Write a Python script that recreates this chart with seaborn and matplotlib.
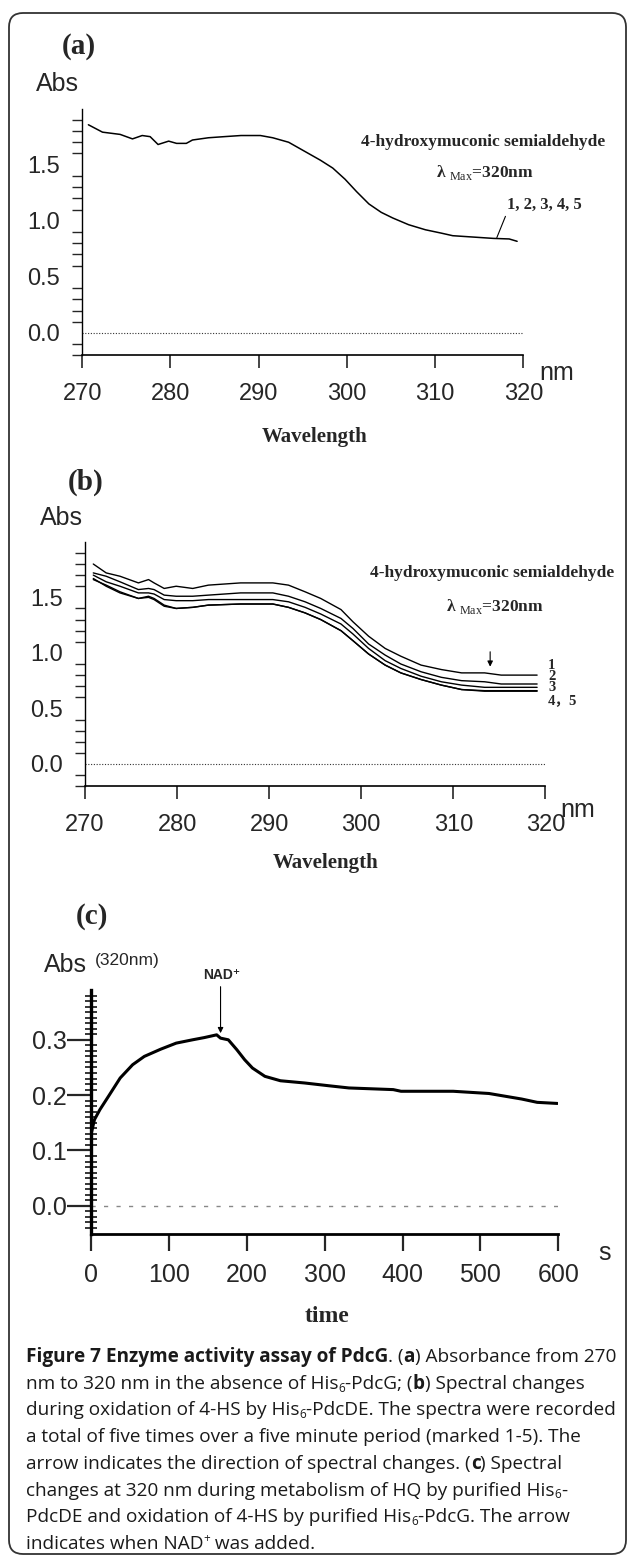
import matplotlib
matplotlib.use('Agg')
import numpy as np
import pandas as pd
import matplotlib.pyplot as plt
import seaborn as sns
from matplotlib.patches import FancyBboxPatch
from matplotlib.transforms import IdentityTransform

W, H = 629, 1557

# ---- panel (a): absorbance spectrum without His6-PdcG (scans 1-5 overlap)
wl_a = [270.7, 272.3, 274.3, 275.7, 276.8, 277.7, 278.6, 279.8, 280.7, 281.8, 282.5,
        284.3, 286.1, 288.0, 290.2, 291.6, 293.4, 295.2, 297.0, 298.4, 299.8, 301.1,
        302.5, 303.9, 305.2, 307.0, 308.9, 310.7, 312.0, 314.3, 316.6, 318.4, 319.3]
abs_a = [1.856, 1.79, 1.77, 1.73, 1.76, 1.75, 1.68, 1.71, 1.69, 1.69, 1.72,
         1.74, 1.75, 1.76, 1.76, 1.74, 1.70, 1.62, 1.54, 1.47, 1.37, 1.26,
         1.15, 1.075, 1.025, 0.965, 0.92, 0.89, 0.867, 0.855, 0.843, 0.838, 0.817]

# ---- panel (b): five scans during oxidation of 4-HS
wl_b = [270.9, 272.3, 273.8, 275.8, 276.9, 277.5, 278.6, 279.9, 281.7, 283.4, 286.9,
        290.4, 292.1, 293.9, 295.6, 297.8, 299.1, 300.8, 302.6, 304.3, 306.5, 308.7,
        310.9, 313.4, 315.2, 319.1]
scan1 = [1.80, 1.72, 1.69, 1.63, 1.66, 1.63, 1.58, 1.60, 1.58, 1.61, 1.63, 1.63, 1.61,
         1.55, 1.49, 1.39, 1.28, 1.15, 1.04, 0.97, 0.89, 0.85, 0.82, 0.82, 0.80, 0.80]
scan2 = [1.72, 1.69, 1.64, 1.57, 1.58, 1.57, 1.52, 1.51, 1.51, 1.52, 1.54, 1.54, 1.51,
         1.46, 1.40, 1.31, 1.22, 1.08, 0.98, 0.90, 0.83, 0.78, 0.75, 0.74, 0.72, 0.72]
scan3 = [1.70, 1.64, 1.60, 1.54, 1.54, 1.53, 1.48, 1.47, 1.47, 1.48, 1.48, 1.48, 1.46,
         1.41, 1.35, 1.26, 1.17, 1.04, 0.93, 0.86, 0.79, 0.74, 0.71, 0.69, 0.69, 0.69]
scan4 = [1.66, 1.61, 1.55, 1.49, 1.51, 1.49, 1.43, 1.40, 1.41, 1.43, 1.44, 1.44, 1.41,
         1.36, 1.30, 1.20, 1.11, 0.99, 0.89, 0.82, 0.76, 0.71, 0.67, 0.66, 0.66, 0.66]
scan5 = [1.67, 1.60, 1.54, 1.49, 1.50, 1.48, 1.42, 1.40, 1.41, 1.43, 1.44, 1.44, 1.41,
         1.36, 1.30, 1.20, 1.11, 0.99, 0.89, 0.82, 0.76, 0.71, 0.67, 0.655, 0.655, 0.655]
scan_labels = ['1', '2', '3', '4，5']
scan_label_y = [0.885, 0.785, 0.685, 0.57]

# ---- panel (c): absorbance at 320 nm over time
time_c = [0, 4, 11, 22, 37, 53, 68, 89, 109, 130, 145, 161, 166, 176, 187, 197, 207,
          223, 243, 274, 305, 331, 388, 398, 465, 511, 532, 553, 573, 599]
abs_c = [0.132, 0.156, 0.174, 0.198, 0.231, 0.255, 0.27, 0.283, 0.294, 0.30, 0.304,
         0.309, 0.303, 0.30, 0.282, 0.264, 0.249, 0.234, 0.226, 0.222, 0.217, 0.213,
         0.21, 0.207, 0.207, 0.203, 0.198, 0.193, 0.187, 0.185]
nad_time = 166

sns.set_theme(style='white')
plt.rcParams['font.family'] = ['Liberation Sans', 'DejaVu Sans']
plt.rcParams['axes.linewidth'] = 1.2
plt.rcParams['axes.edgecolor'] = 'black'
plt.rcParams['mathtext.fontset'] = 'custom'
plt.rcParams['mathtext.rm'] = 'Liberation Serif'
plt.rcParams['mathtext.bf'] = 'Liberation Serif:bold'

fig = plt.figure(figsize=(W / 100, H / 100), dpi=100)
fig.patch.set_facecolor('white')


def px(x, y):
    return x / W, 1 - y / H


def axes_px(x0, x1, y_top, y_bot):
    return fig.add_axes([x0 / W, 1 - y_bot / H, (x1 - x0) / W, (y_bot - y_top) / H])


SERIF = ['Liberation Serif', 'DejaVu Serif']
SANS = ['Liberation Sans', 'DejaVu Sans']


def spectrum_axes(ax):
    ax.set_xlim(270, 320)
    ax.set_ylim(-0.2, 2.0)
    ax.set_xticks([270, 280, 290, 300, 310, 320])
    ax.set_yticks([0.0, 0.5, 1.0, 1.5])
    ax.set_yticklabels(['0.0', '0.5', '1.0', '1.5'])
    ax.set_yticks(np.arange(-0.2, 1.95, 0.1), minor=True)
    ax.tick_params(axis='y', which='major', direction='out', length=16, width=1,
                   pad=0, labelsize=17, color='black')
    ax.tick_params(axis='y', which='minor', direction='out', length=7, width=1, left=True)
    ax.tick_params(axis='x', which='major', direction='out', length=9, width=1.2,
                   pad=11, labelsize=17, bottom=True)
    sns.despine(ax=ax)
    ax.spines['left'].set_linewidth(1.0)
    ax.axhline(0, color='#333333', lw=0.8, ls=(0, (1, 1.5)))
    ax.set_facecolor('white')


# ---------------- panel (a)
ax_a = axes_px(82.2, 523.3, 108.6, 355.4)
sns.lineplot(x=wl_a, y=abs_a, ax=ax_a, color='black', lw=1.1, estimator=None, sort=False)
spectrum_axes(ax_a)
ax_a.text(315.5, 1.705, '4-hydroxymuconic semialdehyde', family=SERIF, fontweight='bold',
          fontsize=12.5, ha='center', va='center')
ax_a.text(315.7, 1.43, r'λ $_{\rm Max}$=320nm', family=SERIF, fontweight='bold',
          fontsize=12.5, ha='center', va='center')
ax_a.annotate('1, 2, 3, 4, 5', xy=(317.0, 0.85), xytext=(318.2, 1.14), family=SERIF,
              fontweight='bold', fontsize=12, ha='left', va='center', annotation_clip=False,
              arrowprops=dict(arrowstyle='-', color='black', lw=0.8,
                              relpos=(0, 0.1), shrinkA=0, shrinkB=0))

fig.text(*px(79, 46), '(a)', family=SERIF, fontweight='bold', fontsize=21, ha='center', va='center')
fig.text(*px(57, 84), 'Abs', fontsize=18, ha='center', va='center')
fig.text(*px(557, 373), 'nm', fontsize=18, ha='center', va='center')
fig.text(*px(315, 437), 'Wavelength', family=SERIF, fontweight='bold', fontsize=15,
         ha='center', va='center')

# ---------------- panel (b)
ax_b = axes_px(85.0, 545.4, 541.8, 786.2)
for scan in [scan1, scan2, scan3, scan4, scan5]:
    sns.lineplot(x=wl_b, y=scan, ax=ax_b, color='black', lw=1.0, estimator=None, sort=False)
spectrum_axes(ax_b)
ax_b.text(314.2, 1.716, '4-hydroxymuconic semialdehyde', family=SERIF, fontweight='bold',
          fontsize=12.5, ha='center', va='center')
ax_b.text(314.5, 1.416, r'λ $_{\rm Max}$=320nm', family=SERIF, fontweight='bold',
          fontsize=12.5, ha='center', va='center')
ax_b.annotate('', xy=(314.0, 0.876), xytext=(314.0, 1.01),
              arrowprops=dict(arrowstyle='-|>', color='black', lw=0.8, mutation_scale=8,
                              shrinkA=0, shrinkB=0))
for lab, yv in zip(scan_labels, scan_label_y):
    ax_b.text(320.3, yv, lab, family=SERIF + ['Noto Sans CJK SC'], fontweight='bold',
              fontsize=10.5, ha='left', va='center', clip_on=False)

fig.text(*px(86, 482), '(b)', family=SERIF, fontweight='bold', fontsize=21, ha='center', va='center')
fig.text(*px(61, 518), 'Abs', fontsize=18, ha='center', va='center')
fig.text(*px(578, 810), 'nm', fontsize=18, ha='center', va='center')
fig.text(*px(326, 863), 'Wavelength', family=SERIF, fontweight='bold', fontsize=15,
         ha='center', va='center')

# ---------------- panel (c)
ax_c = axes_px(91.4, 558.2, 990.0, 1233.5)
df_c = pd.DataFrame({'time': time_c, 'abs': abs_c})
sns.lineplot(data=df_c, x='time', y='abs', ax=ax_c, color='black', lw=2.2, estimator=None)
ax_c.set_xlim(0, 600)
ax_c.set_ylim(-0.05, 0.39)
ax_c.set_xticks([0, 100, 200, 300, 400, 500, 600])
ax_c.set_yticks([0.0, 0.1, 0.2, 0.3])
ax_c.set_yticklabels(['0.0', '0.1', '0.2', '0.3'])
ax_c.set_yticks(np.arange(-0.04, 0.385, 0.01), minor=True)
ax_c.tick_params(axis='y', which='major', direction='out', length=17, width=1.6, pad=1,
                 labelsize=18, left=True)
ax_c.tick_params(axis='y', which='minor', direction='inout', length=9, width=1.3, left=True)
ax_c.tick_params(axis='x', which='major', direction='out', length=12, width=1.6, pad=9,
                 labelsize=18, bottom=True)
sns.despine(ax=ax_c)
ax_c.spines['left'].set_linewidth(2.4)
ax_c.spines['bottom'].set_linewidth(2.0)
ax_c.axhline(0, color='#888888', lw=1.0, ls=(0, (3, 6)))
ax_c.annotate('', xy=(nad_time, 0.312), xytext=(nad_time, 0.396), annotation_clip=False,
              arrowprops=dict(arrowstyle='-|>', color='black', lw=0.8, mutation_scale=8,
                              shrinkA=0, shrinkB=0))
ax_c.text(nad_time + 2, 0.417, 'NAD⁺', family=SANS, fontweight='bold',
          fontsize=10, ha='center', va='center', clip_on=False)

fig.text(*px(92, 917), '(c)', family=SERIF, fontweight='bold', fontsize=21, ha='center', va='center')
fig.text(*px(65, 965), 'Abs', fontsize=18, ha='center', va='center')
fig.text(*px(127, 961), '(320nm)', fontsize=12.5, ha='center', va='center')
fig.text(*px(605, 1253), 's', fontsize=18, ha='center', va='center')
fig.text(*px(327, 1317), 'time', family=SERIF, fontweight='bold', fontsize=17,
         ha='center', va='center')

for ax in (ax_a, ax_b, ax_c):
    ax.set_xlabel('')
    ax.set_ylabel('')
    ax.patch.set_alpha(0)

# ---------------- caption
CAP = ['Open Sans', 'DejaVu Sans']
caption_lines = [
    [('Figure 7 Enzyme activity assay of PdcG', 'b'), ('. (', 'n'), ('a', 'b'),
     (') Absorbance from 270', 'n')],
    [('nm to 320 nm in the absence of His', 'n'), ('6', 'sub'), ('-PdcG; (', 'n'),
     ('b', 'b'), (') Spectral changes', 'n')],
    [('during oxidation of 4-HS by His', 'n'), ('6', 'sub'),
     ('-PdcDE. The spectra were recorded', 'n')],
    [('a total of five times over a five minute period (marked 1-5). The', 'n')],
    [('arrow indicates the direction of spectral changes. (', 'n'), ('c', 'b'),
     (') Spectral', 'n')],
    [('changes at 320 nm during metabolism of HQ by purified His', 'n'), ('6', 'sub'),
     ('-', 'n')],
    [('PdcDE and oxidation of 4-HS by purified His', 'n'), ('6', 'sub'),
     ('-PdcG. The arrow', 'n')],
    [('indicates when NAD', 'n'), ('+', 'sup'), (' was added.', 'n')],
]

renderer = fig.canvas.get_renderer()


def draw_runs(x0, base_y, runs, size, draw=True):
    x = x0
    made = []
    for txt, st in runs:
        fs, dy, wt = size, 0, 'normal'
        if st == 'b':
            wt = 'bold'
        elif st == 'sub':
            fs, dy = size * 0.62, -3
        elif st == 'sup':
            fs, dy = size * 0.62, 7
        t = fig.text(x / W, 1 - (base_y - dy) / H, txt.replace(' ', '\u00a0'), family=CAP,
                     fontsize=fs, fontweight=wt, ha='left', va='baseline', color='#1a1a1a')
        x += t.get_window_extent(renderer=renderer).width
        made.append(t)
    if not draw:
        for t in made:
            t.remove()
    return x - x0


w0 = draw_runs(26, 1362, caption_lines[0], 12, draw=False)
cap_size = 12 * 590 / w0
for i, runs in enumerate(caption_lines):
    draw_runs(26, 1362 + i * 26.7, runs, cap_size)

# rounded frame around the whole figure
frame = FancyBboxPatch((9, 3), 617, 1541, boxstyle='round,pad=0,rounding_size=14',
                       transform=IdentityTransform(), fill=False, edgecolor='#333333',
                       lw=1.3, clip_on=False)
fig.patches.append(frame)

fig.savefig('out.png', dpi=100, facecolor='white')
